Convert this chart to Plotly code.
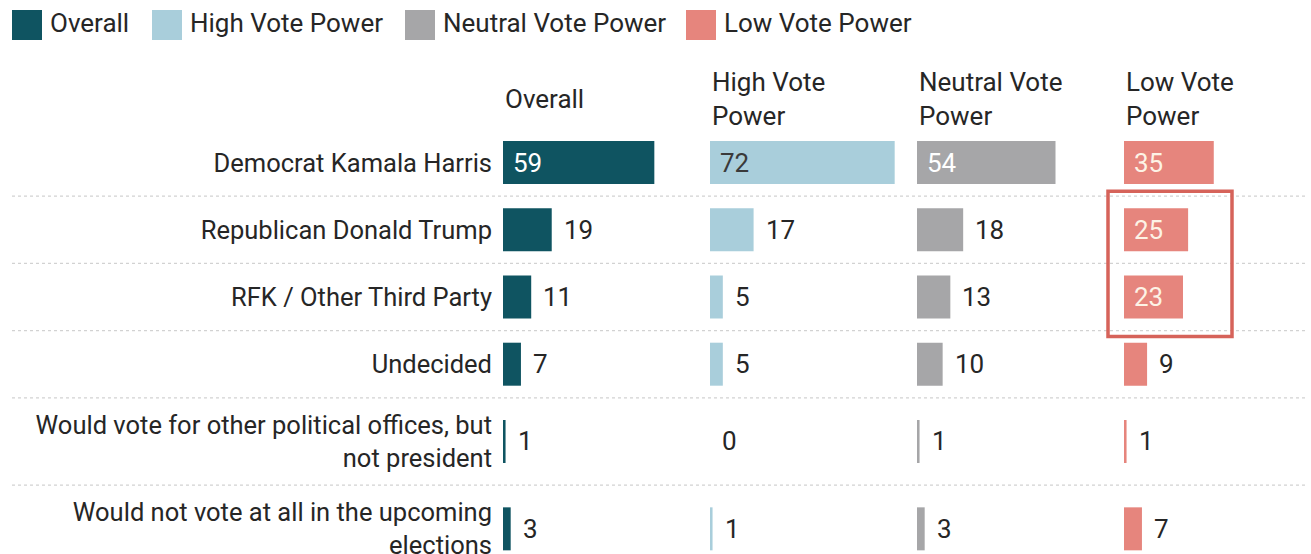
import plotly.graph_objects as go

# ---- data -------------------------------------------------------------
categories = [
    "Democrat Kamala Harris",
    "Republican Donald Trump",
    "RFK / Other Third Party",
    "Undecided",
    "Would vote for other political offices, but<br>not president",
    "Would not vote at all in the upcoming<br>elections",
]
groups = ["Overall", "High Vote Power", "Neutral Vote Power", "Low Vote Power"]
group_headers = ["Overall", "High Vote<br>Power", "Neutral Vote<br>Power", "Low Vote<br>Power"]

overall = [59, 19, 11, 7, 1, 3]
high_vote = [72, 17, 5, 5, 0, 1]
neutral_vote = [54, 18, 13, 10, 1, 3]
low_vote = [35, 25, 23, 9, 1, 7]

series = [overall, high_vote, neutral_vote, low_vote]

# ---- styling ----------------------------------------------------------
FONT = "Roboto"
TEXT_DARK = "#262626"
bar_colors = ["#0f5461", "#a9cedb", "#a6a6a8", "#e6857d"]
inside_text_colors = ["#ffffff", "#3a3a3a", "#ffffff", "#fdf3e6"]
FONT_SIZE = 26
TICK_FONT_SIZE = 25.5

W, H = 1311, 554
PANEL_X = [503, 710, 917, 1124]    # left edge of each panel (px)
PANEL_W = 187                      # panel width (px)
PX_PER_UNIT = 2.565                # px per percentage point
ROW_PX = 67.2                      # height of a one-line row (px)
TOP_PX = 129                       # top of first row (px)
INSIDE_MIN = 20                    # values at/above this get labels inside the bar

# row heights grow with the number of label lines
row_span = [1 + 0.3 * c.count("<br>") for c in categories]
row_centers = []
acc = 0.0
for s in row_span:
    row_centers.append(acc + s / 2)
    acc += s
row_bounds = []
acc = 0.0
for s in row_span[:-1]:
    acc += s
    row_bounds.append(acc)

BAR_W = 43 / ROW_PX                # bar thickness in row units

fig = go.Figure()

x_range = [0, PANEL_W / PX_PER_UNIT]
annotations = []
for i, (name, vals) in enumerate(zip(groups, series)):
    xa = "x" if i == 0 else f"x{i + 1}"
    fig.add_trace(go.Bar(
        x=vals, y=row_centers, orientation="h", name=name,
        marker=dict(color=bar_colors[i], line=dict(width=0)),
        width=BAR_W, xaxis=xa, yaxis="y", showlegend=False,
        hoverinfo="x+text", hovertext=[c.replace("<br>", " ") for c in categories],
    ))
    key = "xaxis" if i == 0 else f"xaxis{i + 1}"
    fig.layout[key] = dict(
        domain=[PANEL_X[i] / W, (PANEL_X[i] + PANEL_W) / W],
        range=x_range, visible=False, anchor="y", fixedrange=True,
        automargin=False,
    )
    # value labels
    for v, yc in zip(vals, row_centers):
        inside = v >= INSIDE_MIN
        annotations.append(dict(
            x=0 if inside else v, y=yc, xref=xa, yref="y",
            text=str(v), showarrow=False, xanchor="left", yanchor="middle",
            xshift=8 if inside else 10,
            font=dict(family=FONT, size=FONT_SIZE,
                      color=inside_text_colors[i] if inside else TEXT_DARK),
        ))
    # panel header
    annotations.append(dict(
        x=0, y=1 - 99 / H, xref=f"{xa} domain", yref="paper",
        text=group_headers[i], showarrow=False, xanchor="left", yanchor="middle",
        align="left", font=dict(family=FONT, size=FONT_SIZE, color=TEXT_DARK),
    ))

# legend drawn as swatches + labels across the top
legend_x = [12, 152, 405, 686]
shapes = []
for i, name in enumerate(groups):
    x0 = legend_x[i]
    shapes.append(dict(
        type="rect", xref="paper", yref="paper",
        x0=x0 / W, x1=(x0 + 30) / W, y0=1 - 40 / H, y1=1 - 10 / H,
        fillcolor=bar_colors[i], line=dict(width=0),
    ))
    annotations.append(dict(
        x=(x0 + 36) / W, y=1 - 23 / H, xref="paper", yref="paper",
        text=name, showarrow=False, xanchor="left", yanchor="middle",
        font=dict(family=FONT, size=FONT_SIZE, color=TEXT_DARK),
    ))

# dotted separators between rows
for b in row_bounds:
    shapes.append(dict(
        type="line", xref="paper", yref="y", x0=12 / W, x1=1305 / W, y0=b, y1=b,
        line=dict(color="#d2d2d2", width=1.2, dash="dot"), layer="below",
    ))

# highlight box around Trump / RFK in the low-vote-power panel
shapes.append(dict(
    type="rect", xref="paper", yref="y",
    x0=1108 / W, x1=1232 / W,
    y0=row_bounds[0] - 5 / ROW_PX, y1=row_bounds[2] + 6 / ROW_PX,
    line=dict(color="#d6635a", width=3.5), fillcolor="rgba(0,0,0,0)",
))

fig.update_layout(
    width=W, height=H,
    margin=dict(l=0, r=0, t=0, b=0, autoexpand=False),
    paper_bgcolor="white", plot_bgcolor="white",
    barmode="overlay",
    showlegend=False,
    font=dict(family=FONT, size=FONT_SIZE, color=TEXT_DARK),
    yaxis=dict(
        domain=[0, 1],
        range=[(H - TOP_PX) / ROW_PX, -TOP_PX / ROW_PX],
        tickvals=row_centers, ticktext=categories,
        ticks="", showgrid=False, zeroline=False, showline=False,
        ticklabelstandoff=10, ticklabeloverflow="allow",
        anchor="x", fixedrange=True, automargin=False,
        tickfont=dict(family=FONT, size=TICK_FONT_SIZE, color=TEXT_DARK),
    ),
    annotations=annotations,
    shapes=shapes,
)

fig.write_html("out.html")
